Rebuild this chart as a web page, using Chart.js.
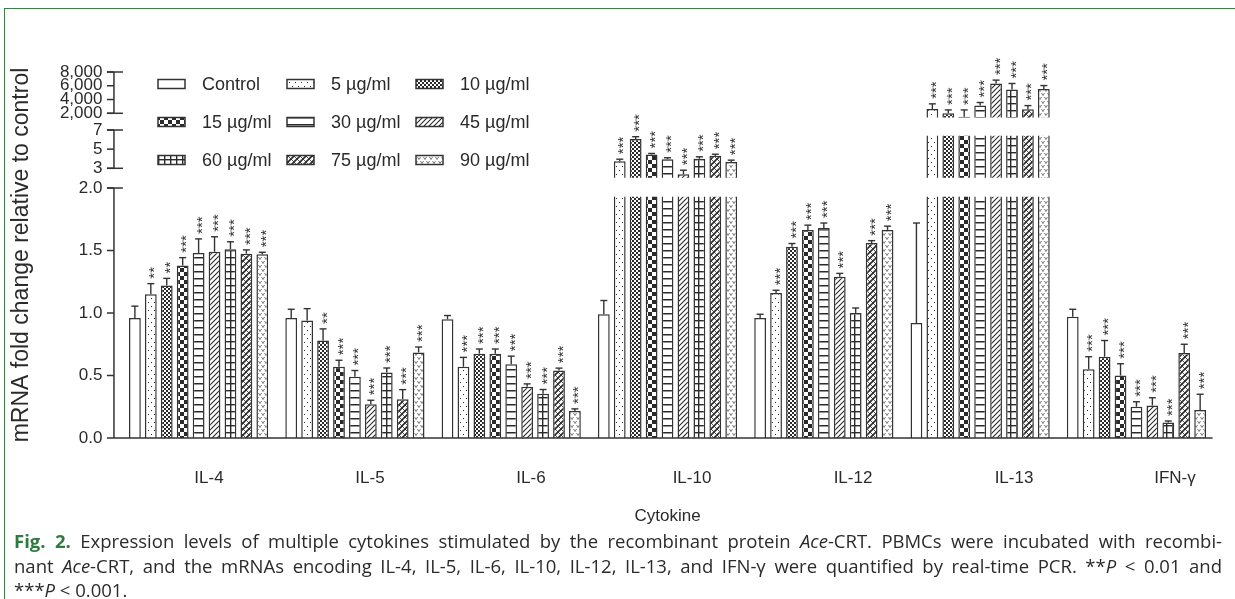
<!DOCTYPE html>
<html>
<head>
<meta charset="utf-8">
<script src="https://cdn.jsdelivr.net/npm/chart.js@4.4.1/dist/chart.umd.min.js"></script>
<style>
  html, body { margin: 0; padding: 0; background: #fff; }
  body { width: 1235px; height: 599px; position: relative; overflow: hidden; }
  #frame { position: absolute; left: 4px; top: 8px; right: -2px; bottom: -2px;
           border-top: 1.5px solid #3d7f49; border-left: 1.5px solid #3d7f49; }
  #chart { position: absolute; left: 0; top: 0; }
  #caption { position: absolute; left: 14px; top: 529px; width: 1208px;
             font-family: "Open Sans", sans-serif; font-size: 18.5px; line-height: 24.5px; color: #2b2b2b; }
  #caption div { text-align: justify; text-align-last: justify; white-space: nowrap; }
  #caption div.last { text-align-last: left; }
  .fig { color: #2f7a3e; font-weight: bold; }
</style>
</head>
<body>
<div id="frame"></div>
<canvas id="chart" width="1235" height="540"></canvas>
<div id="caption">
  <div><span class="fig">Fig. 2.</span> Expression levels of multiple cytokines stimulated by the recombinant protein <i>Ace</i>-CRT. PBMCs were incubated with recombi-</div>
  <div>nant <i>Ace</i>-CRT, and the mRNAs encoding IL-4, IL-5, IL-6, IL-10, IL-12, IL-13, and IFN-γ were quantified by real-time PCR. **<i>P</i> &lt; 0.01 and</div>
  <div class="last">***<i>P</i> &lt; 0.001.</div>
</div>
<script>
const cytokines = ["IL-4", "IL-5", "IL-6", "IL-10", "IL-12", "IL-13", "IFN-γ"];
const doses = ["Control", "5 µg/ml", "10 µg/ml", "15 µg/ml", "30 µg/ml",
  "45 µg/ml", "60 µg/ml", "75 µg/ml", "90 µg/ml"];

// mean fold change, cytokine order as above
const control = [0.96, 0.96, 0.95, 0.99, 0.96, 0.92, 0.97];
const ug5 = [1.15, 0.94, 0.57, 3.74, 1.16, 2635, 0.55];
const ug10 = [1.22, 0.78, 0.675, 6.05, 1.53, 2000, 0.65];
const ug15 = [1.38, 0.57, 0.675, 4.44, 1.665, 1500, 0.50];
const ug30 = [1.48, 0.49, 0.59, 3.95, 1.68, 3120, 0.25];
const ug45 = [1.49, 0.27, 0.41, 2.37, 1.29, 6330, 0.26];
const ug60 = [1.51, 0.525, 0.355, 4.0, 1.0, 5440, 0.125];
const ug75 = [1.475, 0.31, 0.54, 4.3, 1.56, 2590, 0.68];
const ug90 = [1.47, 0.685, 0.217, 3.67, 1.665, 5540, 0.225];

// upper error (SD)
const controlSd = [0.095, 0.07, 0.03, 0.11, 0.03, 0.8, 0.06];
const ug5Sd = [0.085, 0.095, 0.075, 0.21, 0.022, 735, 0.10];
const ug10Sd = [0.057, 0.093, 0.037, 0.25, 0.026, 490, 0.13];
const ug15Sd = [0.063, 0.052, 0.037, 0.11, 0.038, 990, 0.094];
const ug30Sd = [0.113, 0.05, 0.065, 0.15, 0.04, 450, 0.04];
const ug45Sd = [0.12, 0.032, 0.023, 0.43, 0.027, 490, 0.062];
const ug60Sd = [0.06, 0.035, 0.033, 0.2, 0.04, 890, 0.011];
const ug75Sd = [0.03, 0.077, 0.019, 0.17, 0.019, 530, 0.07];
const ug90Sd = [0.016, 0.043, 0.016, 0.18, 0.03, 490, 0.125];

// significance marks
const controlStars = ["", "", "", "", "", "", ""];
const ug5Stars = ["**", "", "***", "***", "***", "***", "***"];
const ug10Stars = ["**", "**", "***", "***", "***", "***", "***"];
const ug15Stars = ["***", "***", "***", "***", "***", "***", "***"];
const ug30Stars = ["***", "***", "***", "***", "***", "***", "***"];
const ug45Stars = ["***", "***", "***", "***", "***", "***", "***"];
const ug60Stars = ["***", "***", "***", "***", "", "***", "***"];
const ug75Stars = ["***", "***", "***", "***", "***", "***", "***"];
const ug90Stars = ["***", "***", "***", "***", "***", "***", "***"];

const yTicks = [0, 0.5, 1, 1.5, 2, 3, 5, 7, 2000, 4000, 6000, 8000];

const means = [control, ug5, ug10, ug15, ug30, ug45, ug60, ug75, ug90];
const sds = [controlSd, ug5Sd, ug10Sd, ug15Sd, ug30Sd, ug45Sd, ug60Sd, ug75Sd, ug90Sd];
const stars = [controlStars, ug5Stars, ug10Stars, ug15Stars, ug30Stars, ug45Stars,
  ug60Stars, ug75Stars, ug90Stars];
const fills = ["none", "dots", "fine", "checker", "hlines", "diag", "grid", "cross", "vees"];

// broken y axis: value range of each piece and where it sits (fraction of plot height)
const axisSegments = [
  { lo: 0, hi: 2, p0: 0, p1: 0.683 },
  { lo: 3, hi: 7, p0: 0.7369, p1: 0.8415 },
  { lo: 2000, hi: 8000, p0: 0.8872, p1: 1 },
];
// bars are only shown inside these value bands
const clipBands = [[0, 1.93], [2.02, 6.4], [1400, 20000]];

// plot area and where the cytokine names sit under it (px)
const plotLeft = 120.45, plotRight = 1214.6;
const labelStart = 209, labelPitch = 161;
const labelMin = -(labelStart - plotLeft) / labelPitch;
const labelMax = labelMin + (plotRight - plotLeft) / labelPitch;

const ink = "#2a2a2a";
const font = '"Liberation Sans", Arial, sans-serif';

class BrokenScale extends Chart.LinearScale {
  determineDataLimits() {
    this.min = 0;
    this.max = 8000;
  }
  buildTicks() {
    return yTicks.map((v) => ({ value: v }));
  }
  getPixelForValue(value) {
    let seg = axisSegments[0];
    for (let i = 1; i < axisSegments.length; i++) {
      if (value > axisSegments[i - 1].hi) seg = axisSegments[i];
    }
    const dec = seg.p0 + ((value - seg.lo) / (seg.hi - seg.lo)) * (seg.p1 - seg.p0);
    return this.getPixelForDecimal(dec);
  }
  getValueForPixel(pixel) {
    const dec = this.getDecimalForPixel(pixel);
    let seg = axisSegments[0];
    for (const s of axisSegments) if (dec >= s.p0) seg = s;
    return seg.lo + ((dec - seg.p0) / (seg.p1 - seg.p0)) * (seg.hi - seg.lo);
  }
}
BrokenScale.id = "broken";
BrokenScale.defaults = Chart.LinearScale.defaults;
Chart.register(BrokenScale);

function makePattern(kind) {
  if (kind === "none") return "#ffffff";
  const sizes = { dots: [6, 8], fine: [4, 4], checker: [8, 8], hlines: [6, 7],
    diag: [5, 5], grid: [6, 7], cross: [6, 6], vees: [6, 8] };
  const [w, h] = sizes[kind];
  const c = document.createElement("canvas");
  c.width = w;
  c.height = h;
  const g = c.getContext("2d");
  g.fillStyle = "#fff";
  g.fillRect(0, 0, w, h);
  g.fillStyle = ink;
  g.strokeStyle = ink;
  const seg = (x1, y1, x2, y2) => {
    g.beginPath();
    g.moveTo(x1, y1);
    g.lineTo(x2, y2);
    g.stroke();
  };
  if (kind === "dots") {
    g.fillRect(1, 2, 1, 1);
    g.fillRect(4, 6, 1, 1);
  } else if (kind === "fine") {
    g.fillRect(0, 0, 2, 2);
    g.fillRect(2, 2, 2, 2);
  } else if (kind === "checker") {
    g.fillRect(0, 0, 4, 4);
    g.fillRect(4, 4, 4, 4);
  } else if (kind === "hlines") {
    g.fillRect(0, 5, w, 1.5);
  } else if (kind === "grid") {
    g.fillRect(0, 5, w, 1.4);
    g.fillRect(2, 0, 1.4, h);
  } else if (kind === "diag") {
    g.lineWidth = 1.1;
    seg(-1, 6, 6, -1);
    seg(-1, 1, 1, -1);
    seg(4, 6, 6, 4);
  } else if (kind === "cross") {
    g.lineWidth = 1.6;
    seg(-1, 7, 7, -1);
    seg(-1, 1, 1, -1);
    seg(5, 7, 7, 5);
    g.lineWidth = 0.8;
    seg(-1, -1, 7, 7);
    seg(-1, 5, 1, 7);
    seg(5, -1, 7, 1);
  } else if (kind === "vees") {
    g.lineWidth = 0.8;
    g.strokeStyle = "#555";
    for (const [x, y] of [[0.5, 1], [3.5, 5], [-2.5, 5]]) {
      g.beginPath();
      g.moveTo(x, y);
      g.lineTo(x + 1.5, y + 2.5);
      g.lineTo(x + 3, y);
      g.stroke();
    }
  }
  return g.createPattern(c, "repeat");
}

function line(ctx, x1, y1, x2, y2) {
  ctx.beginPath();
  ctx.moveTo(x1, y1);
  ctx.lineTo(x2, y2);
  ctx.stroke();
}

const brokenAxis = {
  id: "brokenAxis",
  beforeDatasetsDraw(chart) {
    const { ctx, chartArea, scales: { y } } = chart;
    ctx.save();
    ctx.beginPath();
    clipBands.forEach(([lo, hi]) => {
      const top = Math.max(y.getPixelForValue(hi), 0);
      const bottom = y.getPixelForValue(lo);
      ctx.rect(chartArea.left, top, chartArea.right - chartArea.left, bottom - top);
    });
    ctx.clip();
  },
  afterDatasetsDraw(chart) {
    const { ctx, chartArea, scales: { y } } = chart;
    ctx.restore();
    ctx.save();
    ctx.strokeStyle = "#333";
    ctx.lineWidth = 1.4;
    chart.data.datasets.forEach((ds, i) => {
      chart.getDatasetMeta(i).data.forEach((bar, j) => {
        const top = y.getPixelForValue(means[i][j]);
        const cap = y.getPixelForValue(means[i][j] + sds[i][j]);
        line(ctx, bar.x, top, bar.x, cap);
        line(ctx, bar.x - 3.5, cap, bar.x + 3.5, cap);
        if (stars[i][j]) {
          ctx.save();
          ctx.font = "15px " + font;
          ctx.fillStyle = "#333";
          ctx.textAlign = "left";
          ctx.textBaseline = "alphabetic";
          ctx.translate(bar.x + 0.57 * 15, cap - 5);
          ctx.rotate(-Math.PI / 2);
          ctx.fillText(stars[i][j], 0, 0);
          ctx.restore();
        }
      });
    });

    // axis pieces, caps and ticks
    const ax = chartArea.left - 6.5;
    ctx.strokeStyle = "#333";
    ctx.lineWidth = 1.5;
    axisSegments.forEach((s) => {
      const y0 = y.getPixelForValue(s.lo);
      const y1 = y.getPixelForValue(s.hi);
      line(ctx, ax, y0, ax, y1);
      line(ctx, ax - 7, y1, ax + 9, y1);
      if (s.lo > 0) line(ctx, ax - 7, y0, ax + 9, y0);
    });
    yTicks.forEach((v) => {
      const py = y.getPixelForValue(v);
      line(ctx, ax - 7, py, ax, py);
    });
    const base = y.getPixelForValue(0);
    line(ctx, ax, base, chartArea.right - 2, base);
    ctx.restore();
  },
  afterDraw(chart) {
    const ctx = chart.ctx;
    ctx.save();
    chart.data.datasets.forEach((ds, i) => {
      const bx = 158 + (i % 3) * 129;
      const by = 84 + Math.floor(i / 3) * 38;
      ctx.fillStyle = ds.backgroundColor;
      ctx.fillRect(bx, by - 4.5, 27, 9);
      ctx.strokeStyle = "#333";
      ctx.lineWidth = 1.5;
      ctx.strokeRect(bx, by - 4.5, 27, 9);
      ctx.fillStyle = ink;
      ctx.font = "18px " + font;
      ctx.textAlign = "left";
      ctx.textBaseline = "middle";
      ctx.fillText(ds.label, bx + 44, by + 1);
    });
    ctx.restore();
  },
};

function tickLabel(v) {
  if (v <= 2) return v.toFixed(1);
  if (v < 100) return String(v);
  return v.toLocaleString("en-US");
}

new Chart(document.getElementById("chart"), {
  type: "bar",
  data: {
    labels: cytokines,
    datasets: means.map((vals, i) => ({
      label: doses[i],
      data: vals,
      backgroundColor: makePattern(fills[i]),
      borderColor: "#333",
      borderWidth: 1.5,
      categoryPercentage: 0.917,
      barPercentage: 0.74,
    })),
  },
  options: {
    responsive: false,
    animation: false,
    events: [],
    layout: { padding: { left: 0, right: 1235 - plotRight, top: 72, bottom: 0 } },
    plugins: { legend: { display: false }, tooltip: { enabled: false } },
    scales: {
      x: { display: false },
      names: {
        type: "linear",
        position: "bottom",
        offset: false,
        min: labelMin,
        max: labelMax,
        afterBuildTicks: (s) => { s.ticks = cytokines.map((c, i) => ({ value: i })); },
        grid: { display: false, drawTicks: false, offset: false },
        border: { display: false },
        ticks: { autoSkip: false, padding: 30, color: ink, font: { family: font, size: 17 },
          callback: (v) => cytokines[v] },
        title: { display: true, text: "Cytokine", color: ink,
          font: { family: font, size: 17 }, padding: { top: 0, bottom: 13 } },
        afterFit: (s) => { s.height = 102; },
      },
      y: {
        type: "broken",
        grid: { display: false, drawTicks: false },
        border: { display: false },
        ticks: { autoSkip: false, padding: 18, color: ink,
          font: { family: font, size: 17 }, callback: (v) => tickLabel(v) },
        title: { display: true, text: "mRNA fold change relative to control", color: ink,
          font: { family: font, size: 23 }, padding: { top: 8, bottom: 0 } },
        afterFit: (s) => { s.width = plotLeft; },
      },
    },
  },
  plugins: [brokenAxis],
});
</script>
</body>
</html>
